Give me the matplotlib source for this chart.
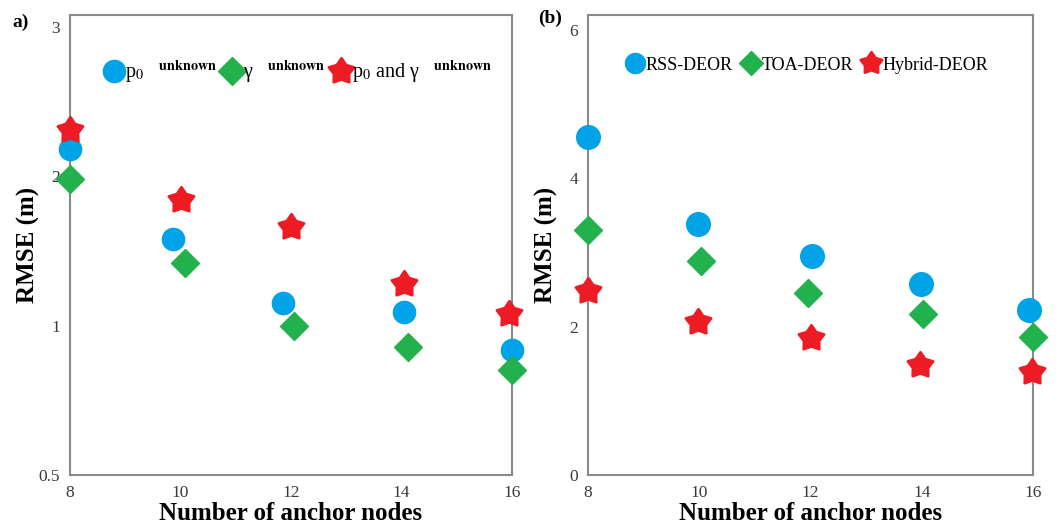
import numpy as np
import matplotlib
matplotlib.use("Agg")
import matplotlib.pyplot as plt
from matplotlib.path import Path
from matplotlib.markers import MarkerStyle

plt.rcParams['font.family'] = ['Liberation Serif', 'DejaVu Serif']
plt.rcParams['mathtext.fontset'] = 'stix'

# ---------------- data ----------------
# panel (a)
a_x_p0 = [8, 9.86, 11.86, 14.05, 16.0]
a_y_p0 = [2.18, 1.58, 1.15, 1.09, 0.92]
a_x_gamma = [8, 10.08, 12.05, 14.12, 16.0]
a_y_gamma = [1.98, 1.42, 1.00, 0.93, 0.85]
a_x_both = [8, 10.0, 12.0, 14.05, 15.95]
a_y_both = [2.31, 1.84, 1.66, 1.28, 1.08]
a_labels = [r'p$_0$   $^{\mathbf{unknown}}$',
            r'γ   $^{\mathbf{unknown}}$',
            r'p$_0$ and γ   $^{\mathbf{unknown}}$']
a_yticks = [0.5, 1, 2, 3]
a_yticklabels = ['0.5', '1', '2', '3']

# panel (b)
b_x_rss = [8, 9.98, 12.03, 13.99, 15.93]
b_y_rss = [4.56, 3.38, 2.95, 2.58, 2.23]
b_x_toa = [8, 10.03, 11.95, 14.03, 16.0]
b_y_toa = [3.30, 2.88, 2.45, 2.17, 1.86]
b_x_hyb = [8, 9.98, 12.0, 13.96, 15.98]
b_y_hyb = [2.48, 2.06, 1.84, 1.48, 1.39]
b_labels = ['RSS-DEOR', 'TOA-DEOR', 'Hybrid-DEOR']
b_yticks = [0, 2, 4, 6]

xticks = [8, 10, 12, 14, 16]
xlabel = 'Number of anchor nodes'
ylabel = 'RMSE (m)'

# ---------------- style ----------------
BLUE = '#00A2E8'
GREEN = '#22B14C'
RED = '#ED1C24'
AXC = '#8a8a8a'
TXT = '#3a3a3a'

# fat, rounded star marker shape
ang = np.linspace(0, 2 * np.pi, 11)[:-1] + np.pi / 2
rad = np.where(np.arange(10) % 2 == 0, 1.0, 0.6)
sv = np.column_stack([rad * np.cos(ang), rad * np.sin(ang)])
sv = np.vstack([sv, sv[:1]])
STAR = MarkerStyle(Path(sv, [Path.MOVETO] + [Path.LINETO] * 9 + [Path.CLOSEPOLY]),
                   joinstyle='round')

fig = plt.figure(figsize=(10.59, 5.27), dpi=100)
axA = fig.add_axes([70 / 1059, 1 - 475 / 527, 442 / 1059, 460 / 527])
axB = fig.add_axes([588 / 1059, 1 - 475 / 527, 445 / 1059, 460 / 527])

# custom y scale for (a): equally spaced 0.5, 1, 2, 3
src = np.array([0.25, 0.5, 1, 2, 3, 4])
dst = np.array([-1.0, 0, 1, 2, 3, 4])
fwd = lambda v: np.interp(v, src, dst)
inv = lambda t: np.interp(t, dst, src)
axA.set_yscale('function', functions=(fwd, inv))


def style(ax, lpad):
    for s in ax.spines.values():
        s.set_color(AXC)
        s.set_linewidth(1.5)
    ax.tick_params(length=0, labelsize=12.5, labelcolor=TXT, pad=7)
    ax.set_xlim(8, 16)
    ax.set_xticks(xticks)
    ax.set_xlabel(xlabel, fontsize=18, fontweight='bold', labelpad=1)
    ax.set_ylabel(ylabel, fontsize=18, fontweight='bold', labelpad=lpad)


mk = dict(linestyle='none', clip_on=False, zorder=3)

h1, = axA.plot(a_x_p0, a_y_p0, marker='o', markersize=16, color=BLUE, mec=BLUE, **mk)
h2, = axA.plot(a_x_gamma, a_y_gamma, marker='D', markersize=14, color=GREEN, mec=GREEN, **mk)
h3, = axA.plot(a_x_both, a_y_both, marker=STAR, markersize=19, color=RED, mec=RED, mew=2, **mk)
axA.set_ylim(0.5, 3.08)
axA.set_yticks(a_yticks)
axA.set_yticklabels(a_yticklabels)
style(axA, -1)
axA.legend([h1, h2, h3], a_labels, ncol=3, frameon=False, loc='upper center',
           bbox_to_anchor=(0.515, 0.945), fontsize=14.5, handletextpad=0.0,
           columnspacing=0.2, markerscale=1.0, handlelength=1.1)

g1, = axB.plot(b_x_rss, b_y_rss, marker='o', markersize=17, color=BLUE, mec=BLUE, **mk)
g2, = axB.plot(b_x_toa, b_y_toa, marker='D', markersize=14, color=GREEN, mec=GREEN, **mk)
g3, = axB.plot(b_x_hyb, b_y_hyb, marker=STAR, markersize=19, color=RED, mec=RED, mew=2, **mk)
axB.set_ylim(0, 6.2)
axB.set_yticks(b_yticks)
style(axB, 8)
axB.legend([g1, g2, g3], b_labels, ncol=3, frameon=False, loc='upper center',
           bbox_to_anchor=(0.49, 0.945), fontsize=13, handletextpad=0.0,
           columnspacing=0.4, markerscale=0.85, handlelength=1.2)

fig.text(12 / 1059, 1 - 22 / 527, 'a)', fontsize=14, fontweight='bold', va='center', ha='left')
fig.text(538 / 1059, 1 - 18 / 527, '(b)', fontsize=14, fontweight='bold', va='center', ha='left')

fig.savefig('out.png', dpi=100)
